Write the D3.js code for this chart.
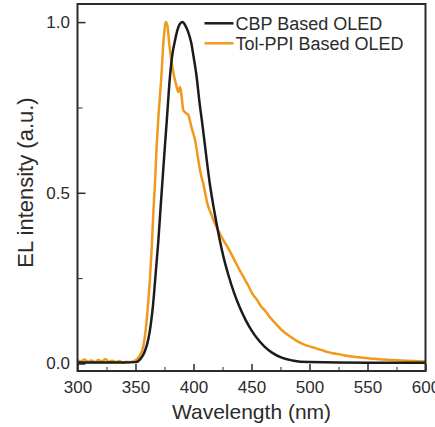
<!DOCTYPE html>
<html lang="en">
<head>
<meta charset="utf-8">
<title>EL spectra</title>
<script src="https://cdn.jsdelivr.net/npm/d3@7"></script>
<style>
  body { margin: 0; background: #fff; }
  text { font-family: "Liberation Sans", Arial, sans-serif; fill: #2b2b2b; }
  .axis path, .axis line { stroke: #2b2b2b; }
</style>
</head>
<body>
<svg width="435" height="427"></svg>
<script>
// CBP based OLED (black)
var cbpX = [300, 320, 340, 350, 354, 358, 361, 363, 365, 367.4, 369.7, 371.5, 373.1, 375, 377, 379.7, 382, 384, 386, 388, 390.4, 393, 395, 398, 400, 402.7, 405, 407.9, 410, 414, 418, 422, 426, 430, 435, 440, 445, 450, 455, 461, 468, 476, 485, 500, 550, 600];
var cbpY = [0.003, 0.003, 0.003, 0.004, 0.012, 0.035, 0.07, 0.11, 0.167, 0.264, 0.36, 0.45, 0.528, 0.62, 0.713, 0.84, 0.91, 0.945, 0.975, 0.993, 1.0, 0.99, 0.975, 0.94, 0.9, 0.84, 0.77, 0.694, 0.635, 0.528, 0.445, 0.372, 0.31, 0.26, 0.207, 0.163, 0.127, 0.097, 0.073, 0.05, 0.031, 0.017, 0.009, 0.004, 0.002, 0.002];

// Tol-PPI based OLED (orange)
var tolX = [300, 303, 306, 309, 312, 315, 318, 321, 324, 327, 330, 333, 336, 339, 342, 345, 348, 351, 354, 356.7, 358.5, 360.5, 362.5, 364, 365.5, 366.8, 368, 369.5, 371, 372.3, 374, 375, 376, 377.5, 379, 381, 383.4, 385.5, 386.9, 388.4, 389.5, 391.2, 393, 395.5, 397, 398.4, 401.3, 403.5, 405.6, 407, 408.4, 410, 411.9, 415, 418.5, 422, 426, 430, 435, 440, 444, 447.2, 451, 455, 458, 461.6, 466, 470, 476, 480, 485, 490, 495, 500, 505, 510, 515, 520, 527, 533, 540, 548, 555, 562, 570, 580, 590, 600];
var tolY = [0.01, 0.006, 0.012, 0.005, 0.009, 0.004, 0.01, 0.006, 0.013, 0.005, 0.008, 0.004, 0.007, 0.003, 0.005, 0.004, 0.006, 0.012, 0.025, 0.05, 0.09, 0.16, 0.25, 0.34, 0.45, 0.528, 0.62, 0.71, 0.78, 0.84, 0.938, 0.975, 1.0, 0.99, 0.94, 0.885, 0.84, 0.81, 0.795, 0.81, 0.79, 0.742, 0.735, 0.728, 0.71, 0.69, 0.655, 0.61, 0.567, 0.545, 0.528, 0.5, 0.469, 0.44, 0.41, 0.385, 0.36, 0.337, 0.305, 0.272, 0.248, 0.228, 0.203, 0.185, 0.168, 0.155, 0.135, 0.12, 0.098, 0.087, 0.075, 0.064, 0.056, 0.05, 0.045, 0.04, 0.034, 0.03, 0.026, 0.022, 0.019, 0.016, 0.014, 0.012, 0.01, 0.009, 0.007, 0.006];

var xTicks = [300, 350, 400, 450, 500, 550, 600];
var xMinor = [325, 375, 425, 475, 525, 575];
var yTicks = [0, 0.5, 1.0];
var yMinor = [0.25, 0.75];
var seriesNames = ["CBP Based OLED", "Tol-PPI Based OLED"];
var seriesColors = ["#1c1c1c", "#f0991c"];

var svg = d3.select("svg"),
    margin = {top: 4, right: 9.5, bottom: 56, left: 77.5},
    width = svg.attr("width") - margin.left - margin.right,
    height = svg.attr("height") - margin.top - margin.bottom;
var g = svg.append("g")
    .attr("transform", "translate(" + margin.left + "," + margin.top + ")");

var xScale = d3.scaleLinear().domain([300, 600]).range([0, width]);
var yScale = d3.scaleLinear().domain([-0.022, 1.053]).range([height, 0]);

g.append("clipPath").attr("id", "clip")
  .append("rect").attr("width", width).attr("height", height);

// minor ticks
g.append("g").attr("class", "axis")
    .attr("transform", "translate(0," + height + ")")
    .call(d3.axisBottom(xScale).tickValues(xMinor).tickSize(-4).tickFormat(""))
    .call(function(a) { a.select(".domain").remove(); });
g.append("g").attr("class", "axis")
    .call(d3.axisLeft(yScale).tickValues(yMinor).tickSize(-5).tickFormat(""))
    .call(function(a) { a.select(".domain").remove(); });

// major axes
var xa = g.append("g").attr("class", "axis")
    .attr("transform", "translate(0," + height + ")")
    .call(d3.axisBottom(xScale).tickValues(xTicks).tickSize(-7).tickPadding(10).tickFormat(d3.format("d")));
xa.select(".domain").remove();
xa.selectAll("text").style("font-size", "17px");
xa.selectAll("line").attr("stroke-width", 1.5);

var ya = g.append("g").attr("class", "axis")
    .call(d3.axisLeft(yScale).tickValues(yTicks).tickSize(-8).tickPadding(7.5).tickFormat(d3.format(".1f")));
ya.select(".domain").remove();
ya.selectAll("text").style("font-size", "17px");
ya.selectAll("line").attr("stroke-width", 1.5);

// curves
var line = d3.line()
    .x(function(d) { return xScale(d[0]); })
    .y(function(d) { return yScale(d[1]); })
    .curve(d3.curveMonotoneX);

var cbp = d3.zip(cbpX, cbpY);
var tol = d3.zip(tolX, tolY);

g.append("path").datum(tol)
    .attr("clip-path", "url(#clip)")
    .attr("fill", "none").attr("stroke", seriesColors[1]).attr("stroke-width", 2.5)
    .attr("d", line);
g.append("path").datum(cbp)
    .attr("clip-path", "url(#clip)")
    .attr("fill", "none").attr("stroke", seriesColors[0]).attr("stroke-width", 2.5)
    .attr("d", line);

// frame
g.append("rect")
    .attr("width", width).attr("height", height)
    .attr("fill", "none").attr("stroke", "#2b2b2b").attr("stroke-width", 2);

// axis titles
g.append("text")
    .attr("x", width / 2)
    .attr("y", height + 48)
    .attr("text-anchor", "middle")
    .style("font-size", "21px")
    .text("Wavelength (nm)");
svg.append("text")
    .attr("transform", "translate(33," + 182.5 + ") rotate(-90)")
    .attr("text-anchor", "middle")
    .style("font-size", "22px")
    .text("EL intensity (a.u.)");

// legend
var leg = g.selectAll(".leg").data(seriesNames).enter().append("g")
    .attr("class", "leg")
    .attr("transform", function(d, i) { return "translate(127," + (19.3 + i * 20) + ")"; });
leg.append("line")
    .attr("x1", 0).attr("x2", 29)
    .attr("stroke", function(d, i) { return seriesColors[i]; })
    .attr("stroke-width", 2.5);
leg.append("text")
    .attr("x", 31).attr("y", 6.5)
    .style("font-size", "18px")
    .text(function(d) { return d; });
</script>
</body>
</html>
